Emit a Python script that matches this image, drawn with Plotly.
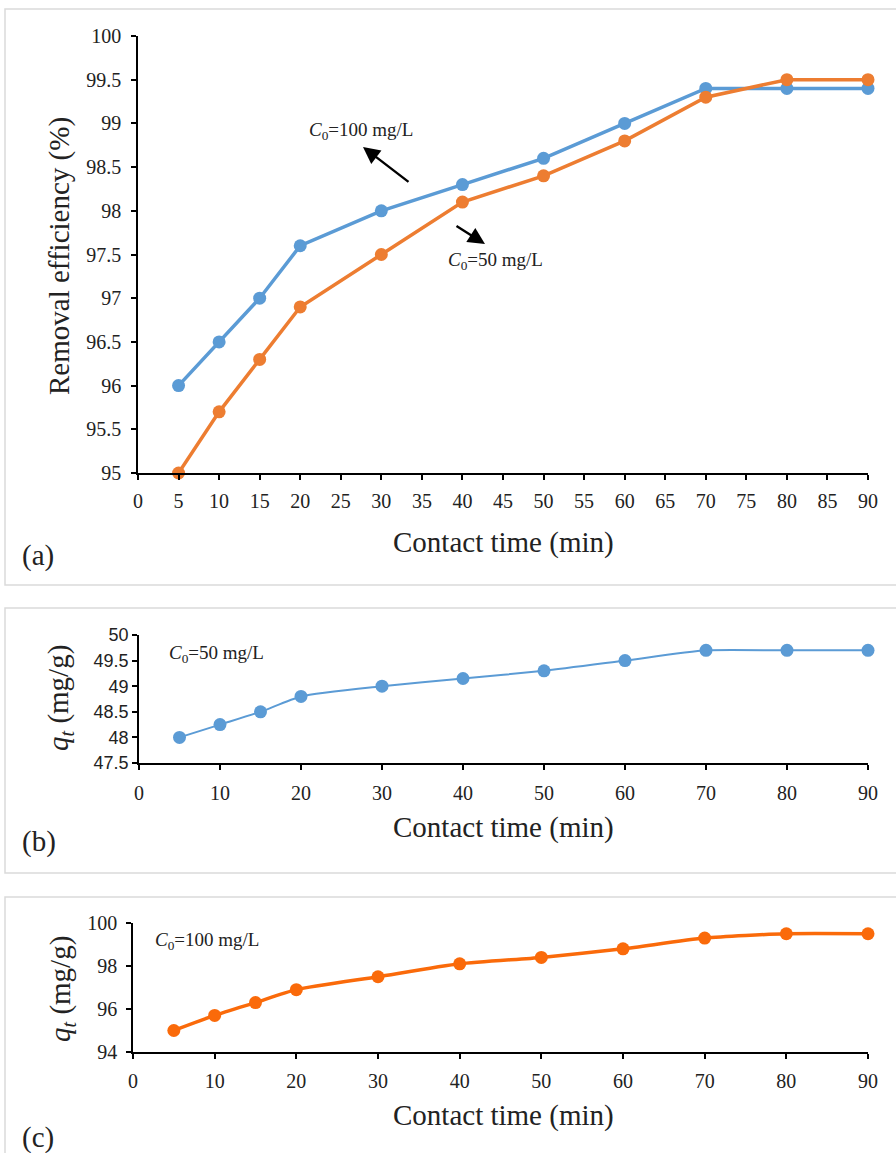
import plotly.graph_objects as go

# ---- data ----
time_a = [5, 10, 15, 20, 30, 40, 50, 60, 70, 80, 90]
removal_100 = [96.0, 96.5, 97.0, 97.6, 98.0, 98.3, 98.6, 99.0, 99.4, 99.4, 99.4]
removal_50 = [95.0, 95.7, 96.3, 96.9, 97.5, 98.1, 98.4, 98.8, 99.3, 99.5, 99.5]
qt_50 = [48.0, 48.25, 48.5, 48.8, 49.0, 49.15, 49.3, 49.5, 49.7, 49.7, 49.7]
qt_100 = [95.0, 95.7, 96.3, 96.9, 97.5, 98.1, 98.4, 98.8, 99.3, 99.5, 99.5]

W, H = 896, 1153
BLUE = "#5B9BD5"
ORANGE = "#ED7D31"
ORANGE_C = "#FA6A0A"
SERIF = "'Liberation Serif', 'Times New Roman', serif"
SANS = "'Liberation Sans', Arial, sans-serif"


def px(x):
    return x / W


def py(y):
    return 1 - y / H


fig = go.Figure()

fig.add_trace(go.Scatter(x=time_a, y=removal_100, mode="lines+markers",
                         line=dict(color=BLUE, width=3.5), marker=dict(size=13, color=BLUE),
                         cliponaxis=False, xaxis="x", yaxis="y"))
fig.add_trace(go.Scatter(x=time_a, y=removal_50, mode="lines+markers",
                         line=dict(color=ORANGE, width=3.5), marker=dict(size=13, color=ORANGE),
                         cliponaxis=False, xaxis="x", yaxis="y"))
fig.add_trace(go.Scatter(x=time_a, y=qt_50, mode="lines+markers",
                         line=dict(color=BLUE, width=2, shape="spline", smoothing=0.6),
                         marker=dict(size=13, color=BLUE),
                         cliponaxis=False, xaxis="x2", yaxis="y2"))
fig.add_trace(go.Scatter(x=time_a, y=qt_100, mode="lines+markers",
                         line=dict(color=ORANGE_C, width=3.5, shape="spline", smoothing=0.6),
                         marker=dict(size=13, color=ORANGE_C),
                         cliponaxis=False, xaxis="x3", yaxis="y3"))

axis_common = dict(showline=True, linecolor="black", linewidth=1.5, ticks="outside",
                   ticklen=5, tickwidth=1.5, tickcolor="black", showgrid=False,
                   zeroline=False, mirror=False, automargin=False)

serif_tick = dict(family=SERIF, size=20, color="#222")
sans_tick = dict(family=SANS, size=18, color="#222")

fig.update_layout(
    template="none",
    font=dict(family=SERIF, color="#222"),
    width=W, height=H, margin=dict(l=0, r=0, t=0, b=0, pad=0), autosize=False,
    paper_bgcolor="white", plot_bgcolor="white", showlegend=False,
    xaxis=dict(domain=[px(138), px(868)], range=[0, 90], dtick=5, tick0=0, anchor="y",
               tickfont=serif_tick, ticklabelstandoff=4, **axis_common),
    yaxis=dict(domain=[py(473), py(36)], range=[95, 100], dtick=0.5, tick0=95, anchor="x",
               tickfont=serif_tick, ticklabelstandoff=6, **axis_common),
    xaxis2=dict(domain=[px(139), px(868)], range=[0, 90], dtick=10, tick0=0, anchor="y2",
                tickfont=serif_tick, ticklabelstandoff=6, **axis_common),
    yaxis2=dict(domain=[py(763), py(635)], range=[47.5, 50], dtick=0.5, tick0=47.5, anchor="x2",
                tickfont=sans_tick, ticklabelstandoff=0, **axis_common),
    xaxis3=dict(domain=[px(133), px(868)], range=[0, 90], dtick=10, tick0=0, anchor="y3",
                tickfont=serif_tick, ticklabelstandoff=5, **axis_common),
    yaxis3=dict(domain=[py(1052), py(923)], range=[94, 100], dtick=2, tick0=94, anchor="x3",
                tickfont=serif_tick, ticklabelstandoff=5, **axis_common),
)

# panel borders
for y0, y1 in [(9, 585), (608, 873), (897, 1170)]:
    fig.add_shape(type="rect", xref="paper", yref="paper",
                  x0=px(5), x1=px(905), y0=py(y1), y1=py(y0),
                  line=dict(color="#DADADA", width=1.5), fillcolor="rgba(0,0,0,0)", layer="below")

title_font = dict(family=SERIF, size=29, color="#222")
ann = []
# x titles
for yc in [543, 827, 1115]:
    ann.append(dict(x=px(503), y=py(yc), xref="paper", yref="paper", text="Contact time (min)",
                    showarrow=False, font=title_font, xanchor="center", yanchor="middle"))
# panel labels
for lab, yc in [("(a)", 555), ("(b)", 841), ("(c)", 1137)]:
    ann.append(dict(x=px(20), y=py(yc), xref="paper", yref="paper", text=lab,
                    showarrow=False, font=title_font, xanchor="left", yanchor="middle"))
# y titles
ann.append(dict(x=px(60), y=py(256), xref="paper", yref="paper", text="Removal efficiency (%)",
                showarrow=False, font=title_font, textangle=-90, xanchor="center", yanchor="middle"))
ann.append(dict(x=px(60), y=py(698), xref="paper", yref="paper",
                text="<i>q</i><sub><i>t</i></sub> (mg/g)",
                showarrow=False, font=title_font, textangle=-90, xanchor="center", yanchor="middle"))
ann.append(dict(x=px(62), y=py(989), xref="paper", yref="paper",
                text="<i>q</i><sub><i>t</i></sub> (mg/g)",
                showarrow=False, font=title_font, textangle=-90, xanchor="center", yanchor="middle"))

lab_font = dict(family=SERIF, size=19, color="#222")
# concentration labels
ann.append(dict(x=px(307), y=py(131), xref="paper", yref="paper",
                text="<i>C</i><sub>0</sub>=100 mg/L", showarrow=False, font=lab_font,
                xanchor="left", yanchor="middle"))
ann.append(dict(x=px(446), y=py(261), xref="paper", yref="paper",
                text="<i>C</i><sub>0</sub>=50 mg/L", showarrow=False, font=lab_font,
                xanchor="left", yanchor="middle"))
ann.append(dict(x=px(167), y=py(654), xref="paper", yref="paper",
                text="<i>C</i><sub>0</sub>=50 mg/L", showarrow=False, font=lab_font,
                xanchor="left", yanchor="middle"))
ann.append(dict(x=px(153), y=py(941), xref="paper", yref="paper",
                text="<i>C</i><sub>0</sub>=100 mg/L", showarrow=False, font=lab_font,
                xanchor="left", yanchor="middle"))
# arrows
ann.append(dict(x=px(363), y=py(147), xref="paper", yref="paper", ax=47, ay=36,
                text="", showarrow=True, arrowhead=2, arrowsize=1.4, arrowwidth=2.4,
                arrowcolor="black"))
ann.append(dict(x=px(485), y=py(244), xref="paper", yref="paper", ax=-30, ay=-19,
                text="", showarrow=True, arrowhead=2, arrowsize=1.4, arrowwidth=2.4,
                arrowcolor="black"))

fig.update_layout(annotations=ann)
fig.write_html("out.html", config={"displayModeBar": False},
               post_script="document.body.style.margin='0px';document.body.style.overflow='hidden';")
